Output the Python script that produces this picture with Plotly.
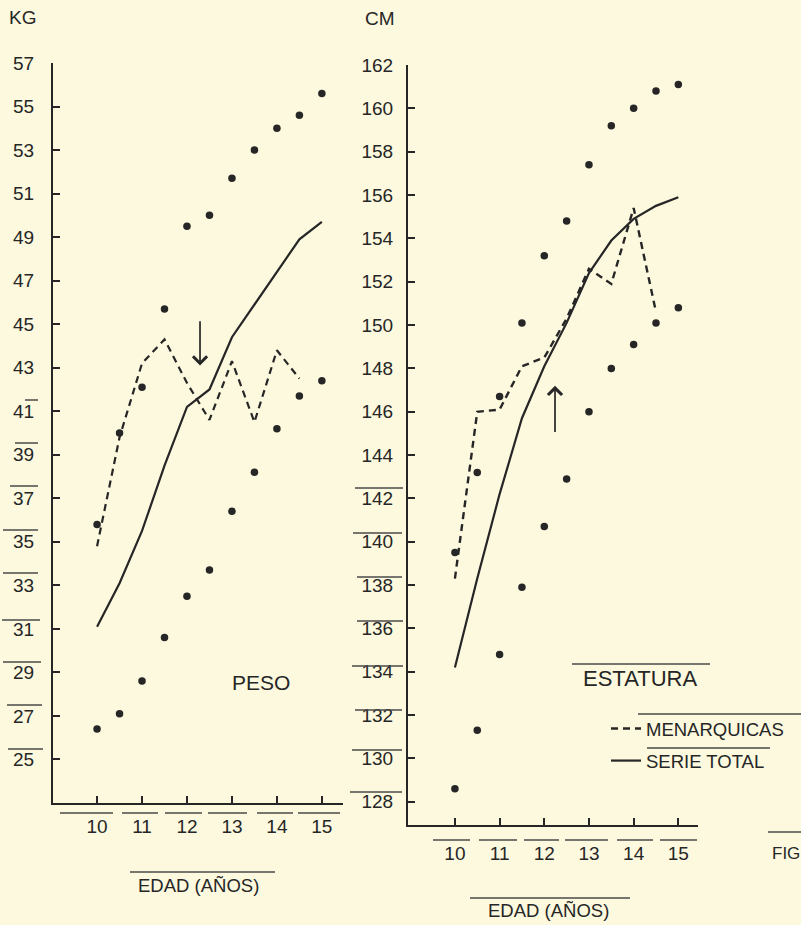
import plotly.graph_objects as go

W, H = 801, 925

# ---------------- data ----------------
ages = [10, 10.5, 11, 11.5, 12, 12.5, 13, 13.5, 14, 14.5, 15]
ages_men = [10, 10.5, 11, 11.5, 12, 12.5, 13, 13.5, 14, 14.5]

peso_alto = [35.8, 40.0, 42.1, 45.7, 49.5, 50.0, 51.7, 53.0, 54.0, 54.6, 55.6]
peso_bajo = [26.4, 27.1, 28.6, 30.6, 32.5, 33.7, 36.4, 38.2, 40.2, 41.7, 42.4]
peso_total = [31.1, 33.1, 35.5, 38.5, 41.2, 42.0, 44.4, 45.9, 47.4, 48.9, 49.7]
peso_men = [34.8, 39.8, 43.2, 44.3, 42.3, 40.6, 43.3, 40.5, 43.8, 42.5]

est_alto = [139.5, 143.2, 146.7, 150.1, 153.2, 154.8, 157.4, 159.2, 160.0, 160.8, 161.1]
est_bajo = [128.6, 131.3, 134.8, 137.9, 140.7, 142.9, 146.0, 148.0, 149.1, 150.1, 150.8]
est_total = [134.2, 138.3, 142.2, 145.7, 148.1, 150.1, 152.4, 153.9, 154.9, 155.5, 155.9]
est_men = [138.3, 146.0, 146.1, 148.1, 148.5, 150.3, 152.6, 151.9, 155.4, 150.6]

x_ticks = [10, 11, 12, 13, 14, 15]
kg_ticks = [25, 27, 29, 31, 33, 35, 37, 39, 41, 43, 45, 47, 49, 51, 53, 55, 57]
cm_ticks = [128, 130, 132, 134, 136, 138, 140, 142, 144, 146, 148, 150, 152, 154, 156, 158, 160, 162]

# arrows (age, from, to)
peso_arrow = (12.29, 45.2, 43.1)
est_arrow = (12.24, 145.0, 147.2)

# ---------------- style ----------------
BG = "#FCF9DF"
INK = "#262626"
FONT = "Liberation Sans"
DASH = "7px,5px"


def px(x):
    return x / W


def py(y):
    return 1 - y / H


fig = go.Figure()

# left panel: PESO
fig.add_trace(go.Scatter(x=ages, y=peso_alto, mode="markers", xaxis="x", yaxis="y",
                         marker=dict(size=7.5, color=INK), showlegend=False))
fig.add_trace(go.Scatter(x=ages, y=peso_bajo, mode="markers", xaxis="x", yaxis="y",
                         marker=dict(size=7.5, color=INK), showlegend=False))
fig.add_trace(go.Scatter(x=ages_men, y=peso_men, mode="lines", xaxis="x", yaxis="y",
                         line=dict(color=INK, width=2.2, dash=DASH), showlegend=False))
fig.add_trace(go.Scatter(x=ages, y=peso_total, mode="lines", xaxis="x", yaxis="y",
                         line=dict(color=INK, width=2.2), showlegend=False))

# right panel: ESTATURA
fig.add_trace(go.Scatter(x=ages, y=est_alto, mode="markers", xaxis="x2", yaxis="y2",
                         marker=dict(size=7.5, color=INK), showlegend=False))
fig.add_trace(go.Scatter(x=ages, y=est_bajo, mode="markers", xaxis="x2", yaxis="y2",
                         marker=dict(size=7.5, color=INK), showlegend=False))
fig.add_trace(go.Scatter(x=ages_men, y=est_men, mode="lines", xaxis="x2", yaxis="y2",
                         name="MENARQUICAS", legendgroup="a",
                         line=dict(color=INK, width=2.4, dash=DASH)))
fig.add_trace(go.Scatter(x=ages, y=est_total, mode="lines", xaxis="x2", yaxis="y2",
                         name="SERIE TOTAL", legendgroup="b",
                         line=dict(color=INK, width=2.2)))

axis_common = dict(showgrid=False, zeroline=False, showline=True, linecolor=INK,
                   linewidth=2, ticks="inside", ticklen=7, tickwidth=1.5,
                   tickcolor=INK, automargin=False,
                   tickfont=dict(family=FONT, size=19, color=INK))

fig.update_layout(
    template="plotly",
    width=W, height=H, margin=dict(l=0, r=0, t=0, b=0, pad=0, autoexpand=False),
    paper_bgcolor=BG, plot_bgcolor=BG,
    font=dict(family=FONT, color=INK),
    xaxis=dict(domain=[px(53), px(343)], range=[9.02, 15.47], tickvals=x_ticks,
               ticklabelstandoff=5, anchor="y", **axis_common),
    yaxis=dict(domain=[py(803), py(63)], range=[23, 57], tickvals=kg_ticks,
               ticklabelstandoff=13, anchor="x", **axis_common),
    xaxis2=dict(domain=[px(408), px(698)], range=[8.95, 15.44], tickvals=x_ticks,
                ticklabelstandoff=10, anchor="y2", **axis_common),
    yaxis2=dict(domain=[py(825), py(65)], range=[126.93, 162], tickvals=cm_ticks,
                ticklabelstandoff=9, anchor="x2", **axis_common),
    legend=dict(x=px(606), y=py(710), xanchor="left", yanchor="top",
                bgcolor="rgba(0,0,0,0)", font=dict(family=FONT, size=18.5, color=INK),
                tracegroupgap=5, traceorder="grouped"),
)

# text labels
texts = [
    ("KG", 22, 17, 19, "center"),
    ("CM", 380, 18, 19, "center"),
    ("PESO", 261, 682, 21, "center"),
    ("ESTATURA", 640, 678, 22, "center"),
    ("EDAD (AÑOS)", 198, 885, 18.5, "center"),
    ("EDAD (AÑOS)", 548, 910, 18.5, "center"),
    ("FIG", 770, 853, 17, "left"),
]
for t, x, y, s, anc in texts:
    fig.add_annotation(text=t, x=px(x), y=py(y), xref="paper", yref="paper",
                       xanchor=anc, yanchor="middle", showarrow=False,
                       font=dict(family=FONT, size=s, color=INK))

# arrows
for (ax_, y0, y1), xr, yr in [(peso_arrow, "x", "y"), (est_arrow, "x2", "y2")]:
    fig.add_annotation(x=ax_, y=y1, ax=ax_, ay=y0, xref=xr, yref=yr, axref=xr, ayref=yr,
                       text="", showarrow=True, arrowhead=4, arrowsize=1.6,
                       arrowwidth=1.7, arrowcolor=INK)

# decorative rules printed over labels in the original scan
rules = [
    (25, 38, 400), (15, 38, 443), (10, 38, 486), (3, 38, 530), (3, 38, 573),
    (2, 40, 620), (3, 41, 662), (7, 42, 705), (8, 43, 749),
    (355, 403, 488), (353, 402, 533), (357, 402, 577), (357, 403, 621),
    (352, 403, 666), (355, 402, 710), (352, 402, 750), (350, 402, 792),
    (60, 113, 813), (122, 158, 813), (165, 202, 813), (208, 247, 813),
    (257, 293, 813), (298, 340, 813),
    (433, 470, 840), (479, 517, 840), (524, 559, 840), (565, 608, 840),
    (617, 653, 840), (660, 697, 840),
    (130, 275, 872), (470, 630, 898), (572, 710, 664), (638, 801, 714),
    (647, 770, 748), (768, 801, 832),
]
for x0, x1, y in rules:
    fig.add_shape(type="line", xref="paper", yref="paper", x0=px(x0), x1=px(x1),
                  y0=py(y), y1=py(y), line=dict(color="#4a4a4a", width=1.5))

fig.write_html("out.html")
